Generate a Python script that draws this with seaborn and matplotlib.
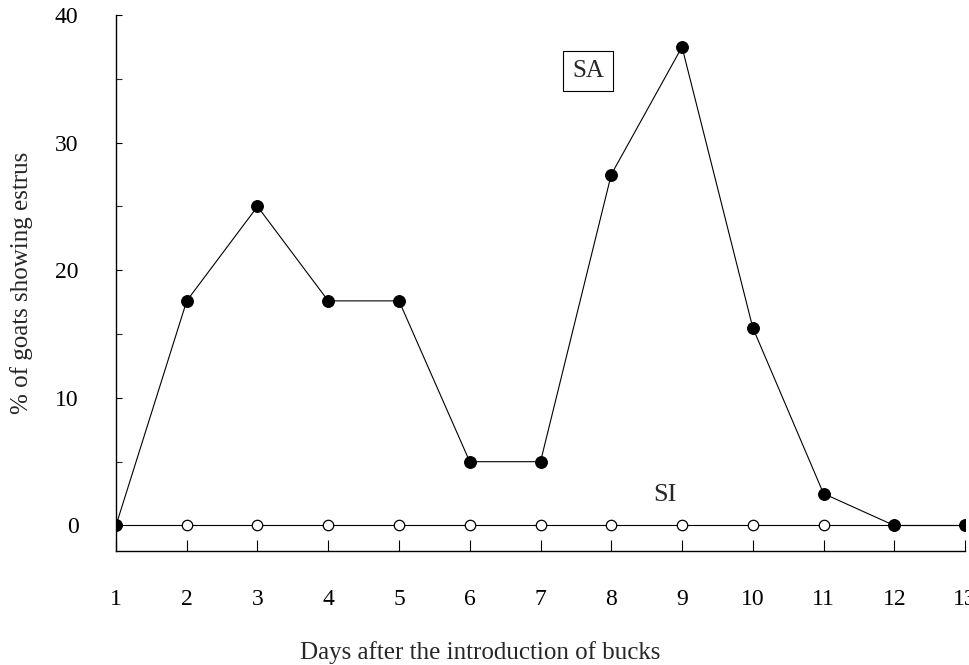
import matplotlib
matplotlib.use("Agg")
import matplotlib.pyplot as plt
import seaborn as sns
import pandas as pd

days = [1, 2, 3, 4, 5, 6, 7, 8, 9, 10, 11, 12, 13]
sa_values = [0, 17.6, 25, 17.6, 17.6, 5, 5, 27.5, 37.5, 15.5, 2.5, 0, 0]
si_values = [0, 0, 0, 0, 0, 0, 0, 0, 0, 0, 0, 0, 0]
y_major = [0, 10, 20, 30, 40]
y_minor = [5, 15, 25, 35]

sns.set_style("ticks")
plt.rcParams['font.family'] = ['Liberation Serif', 'DejaVu Serif']

df = pd.DataFrame({"day": days, "SA": sa_values, "SI": si_values})

fig = plt.figure(figsize=(9.69, 6.65), dpi=100)
ax = fig.add_axes([0.1197, 0.1714, 0.8762, 0.8060])

sns.lineplot(data=df, x="day", y="SI", ax=ax, color="black", linewidth=0.8,
             marker="o", markersize=7.5, markerfacecolor="white",
             markeredgecolor="black", markeredgewidth=0.9, zorder=3)
sns.lineplot(data=df, x="day", y="SA", ax=ax, color="black", linewidth=0.8,
             marker="o", markersize=8.5, markerfacecolor="black",
             markeredgecolor="black", zorder=4)

ax.set_xlim(1, 13)
ax.set_ylim(-2, 40)
ax.set_xticks(days)
ax.set_xticklabels([str(d) for d in days])
ax.set_yticks(y_major)
ax.set_yticks(y_minor, minor=True)
for s in ["top", "right"]:
    ax.spines[s].set_visible(False)
for s in ["left", "bottom"]:
    ax.spines[s].set_linewidth(1.0)
    ax.spines[s].set_color("black")

ax.tick_params(axis="x", direction="in", length=8, width=0.8, pad=27,
               labelsize=17, colors="black")
ax.tick_params(axis="y", which="major", direction="in", length=4, width=0.8,
               pad=27, labelsize=17, colors="black")
ax.tick_params(axis="y", which="minor", direction="in", length=4, width=0.8)

ax.set_xlabel("Days after the introduction of bucks", fontsize=18, va="center")
ax.xaxis.set_label_coords(0.429, -0.19)
ax.set_ylabel("% of goats showing estrus", fontsize=18, va="center")
ax.yaxis.set_label_coords(-0.111, 0.5)

ax.text(7.67, 35.6, "SA", fontsize=18, ha="center", va="center",
        bbox=dict(boxstyle="square,pad=0.35", facecolor="white",
                  edgecolor="black", linewidth=0.8))
ax.text(8.76, 2.4, "SI", fontsize=19, ha="center", va="center")

ax.grid(False)
fig.savefig("out.png", dpi=100)
